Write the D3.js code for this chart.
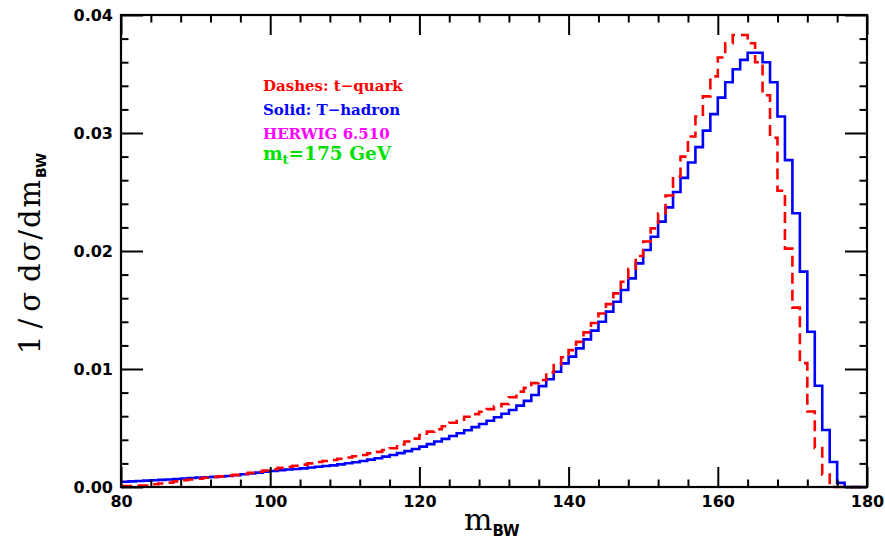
<!DOCTYPE html>
<html><head><meta charset="utf-8">
<script src="https://cdn.jsdelivr.net/npm/d3@7"></script>
<style>body{margin:0;background:#fff}</style>
</head><body>
<svg id="c" width="885" height="540"></svg>
<script>
// bin lower edges (1 GeV bins from 80 to 179)
const binStart = 80, binWidth = 1;
const tHadron = [
 0.00045,0.00048,0.00051,0.00054,0.00057,0.00060,0.00064,0.00068,0.00072,0.00076,
 0.00080,0.00083,0.00086,0.00089,0.00093,0.00100,0.00108,0.00115,0.00122,0.00129,
 0.00136,0.00142,0.00148,0.00153,0.00158,0.00165,0.00172,0.00178,0.00183,0.00192,
 0.00201,0.00210,0.00220,0.00232,0.00244,0.00257,0.00271,0.00287,0.00304,0.00322,
 0.00342,0.00363,0.00385,0.00408,0.00432,0.00456,0.00481,0.00507,0.00534,0.00562,
 0.00591,0.00621,0.00653,0.00690,0.00730,0.00780,0.00855,0.00913,0.00977,0.01048,
 0.01105,0.01175,0.01251,0.01325,0.01401,0.01486,0.01570,0.01670,0.01768,0.01895,
 0.02008,0.02121,0.02249,0.02370,0.02500,0.02620,0.02750,0.02880,0.03020,0.03160,
 0.03300,0.03430,0.03540,0.03620,0.03680,0.03680,0.03600,0.03430,0.03140,0.02770,
 0.02320,0.01825,0.01316,0.00858,0.00483,0.00212,0.00035,0,0,0
];
const tQuark = [
 0.00008,0.00008,0.00012,0.00012,0.00023,0.00030,0.00037,0.00048,0.00058,0.00064,
 0.00070,0.00078,0.00085,0.00090,0.00096,0.00103,0.00110,0.00120,0.00130,0.00140,
 0.00150,0.00162,0.00172,0.00180,0.00190,0.00200,0.00212,0.00220,0.00229,0.00240,
 0.00250,0.00260,0.00271,0.00285,0.00298,0.00313,0.00328,0.00360,0.00385,0.00410,
 0.00440,0.00469,0.00490,0.00515,0.00545,0.00570,0.00595,0.00618,0.00638,0.00660,
 0.00685,0.00703,0.00760,0.00808,0.00840,0.00880,0.00907,0.00970,0.01034,0.01100,
 0.01160,0.01230,0.01310,0.01390,0.01470,0.01550,0.01641,0.01740,0.01850,0.01958,
 0.02080,0.02192,0.02320,0.02470,0.02630,0.02800,0.02970,0.03140,0.03310,0.03480,
 0.03640,0.03760,0.03830,0.03830,0.03760,0.03600,0.03320,0.02960,0.02510,0.02020,
 0.01520,0.01050,0.00640,0.00330,0.00105,0,0,0,0,0
];
const xTicks = [80,100,120,140,160,180];
const yTicks = [0.00,0.01,0.02,0.03,0.04];
const legendLines = ["Dashes: t\u2212quark","Solid: T\u2212hadron","HERWIG 6.510"];
const legendColors = ["#ff0000","#0000ff","#ff00ff"];

const svg = d3.select("#c");
const L=121,R=867,T=15,B=487;
const x = d3.scaleLinear().domain([80,180]).range([L,R]);
const y = d3.scaleLinear().domain([0,0.04]).range([B,T]);

function pts(arr){
  const p = arr.map((v,i)=>[binStart+i*binWidth, v]);
  p.push([binStart+arr.length*binWidth, arr[arr.length-1]]);
  return p;
}
const line = d3.line().x(d=>x(d[0])).y(d=>y(d[1])).curve(d3.curveStepAfter);

svg.append("path").attr("d",line(pts(tHadron))).attr("fill","none")
  .attr("stroke","#0000ff").attr("stroke-width",2.6);
svg.append("path").attr("d",line(pts(tQuark))).attr("fill","none")
  .attr("stroke","#ff0000").attr("stroke-width",2.6).attr("stroke-dasharray","11,6");

// axes (ticks inside on all four sides)
const font = "'DejaVu Sans', sans-serif";
const xMinor = d3.range(80,181,4).filter(v=>v%20!==0);
const yMinor = d3.range(0,0.0401,0.002).filter(v=>Math.abs(v*100-Math.round(v*100))>1e-6);
const gB = svg.append("g").attr("transform",`translate(0,${B})`)
  .call(d3.axisBottom(x).tickValues(xTicks).tickSize(-20).tickFormat(d3.format("d")));
const gT = svg.append("g").attr("transform",`translate(0,${T})`)
  .call(d3.axisTop(x).tickValues(xTicks).tickSize(-20).tickFormat(""));
const gL = svg.append("g").attr("transform",`translate(${L},0)`)
  .call(d3.axisLeft(y).tickValues(yTicks).tickSize(-22).tickFormat(d3.format(".2f")));
const gR = svg.append("g").attr("transform",`translate(${R},0)`)
  .call(d3.axisRight(y).tickValues(yTicks).tickSize(-22).tickFormat(""));
svg.append("g").attr("transform",`translate(0,${B})`).call(d3.axisBottom(x).tickValues(xMinor).tickSize(-7.5).tickFormat(""));
svg.append("g").attr("transform",`translate(0,${T})`).call(d3.axisTop(x).tickValues(xMinor).tickSize(-7.5).tickFormat(""));
svg.append("g").attr("transform",`translate(${L},0)`).call(d3.axisLeft(y).tickValues(yMinor).tickSize(-7.5).tickFormat(""));
svg.append("g").attr("transform",`translate(${R},0)`).call(d3.axisRight(y).tickValues(yMinor).tickSize(-7.5).tickFormat(""));
svg.selectAll(".domain").remove();
svg.selectAll(".tick line").attr("stroke","#000").attr("stroke-width",2);
gB.selectAll("text").attr("dy",null).attr("y",20).attr("font-size",16).attr("font-weight","bold").attr("font-family",font).attr("fill","#000");
gL.selectAll("text").attr("x",-8).attr("font-size",16).attr("font-weight","bold").attr("font-family",font).attr("fill","#000");
svg.append("rect").attr("x",L).attr("y",T).attr("width",R-L).attr("height",B-T)
  .attr("fill","none").attr("stroke","#000").attr("stroke-width",2.2);

// axis titles
const serif = "'DejaVu Serif', serif";
const xt = svg.append("text").attr("x",464).attr("y",530).attr("font-family",serif).attr("font-size",30);
xt.append("tspan").text("m");
xt.append("tspan").attr("dy",6).attr("font-size",15).attr("font-weight","bold").attr("font-family",font).text("BW");

svg.append("text").attr("transform","translate(40,354) rotate(-90)")
  .attr("font-family",serif).attr("font-size",29)
  .attr("textLength",62).attr("lengthAdjust","spacing").text("1/\u03c3");
const yt = svg.append("text").attr("transform","translate(40,282) rotate(-90)")
  .attr("font-family",serif).attr("font-size",29);
yt.append("tspan").attr("textLength",102).attr("lengthAdjust","spacing").text("d\u03c3/dm");
yt.append("tspan").attr("dy",6).attr("font-size",14).attr("font-weight","bold").attr("font-family",font).text("BW");

// legend text
const lg = svg.append("g");
legendLines.forEach((s,i)=>{
  lg.append("text").attr("x",263).attr("y",91+i*24).attr("font-family",serif)
    .attr("font-weight","bold").attr("font-size",15).attr("fill",legendColors[i]).text(s);
});
const mt = lg.append("text").attr("x",263).attr("y",160).attr("font-family",serif)
  .attr("font-weight","bold").attr("font-size",18.5).attr("fill","#00e000");
mt.append("tspan").text("m");
mt.append("tspan").attr("dy",4).attr("font-size",13).text("t");
mt.append("tspan").attr("dy",-4).text("=175 GeV");
</script>
</body></html>
